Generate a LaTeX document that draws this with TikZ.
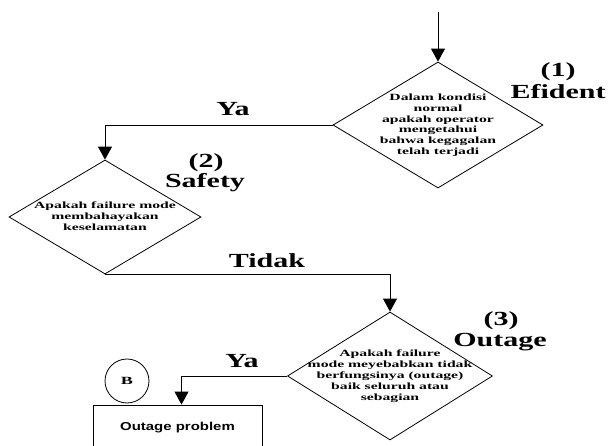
\documentclass[tikz,border=0pt]{standalone}
\usepackage{fontspec}
\setmainfont{Liberation Serif}
\newfontfamily\bigf[FakeStretch=1.5]{Liberation Serif}
\newfontfamily\smallf[FakeStretch=1.65]{Liberation Serif}
\newfontfamily\sansf[FakeStretch=1.3]{Liberation Sans}
\usetikzlibrary{shapes.geometric,arrows.meta}
\newcommand{\zerobox}[1]{\makebox[0pt]{\smash{\raisebox{-2.5pt}{\begin{tabular}{@{}c@{}}#1\end{tabular}}}}}
\tikzset{
  dec/.style={draw, diamond, inner sep=0pt, line width=0.8pt,
    font=\smallf\bfseries\fontsize{9.5}{10.8}\selectfont},
  lbl/.style={anchor=base, font=\bigf\bfseries\fontsize{20}{22}\selectfont},
  conn/.style={draw, line width=0.9pt, -{Triangle[width=14pt,length=13pt]}},
  procbox/.style={draw, rectangle, line width=0.9pt, minimum width=169pt, minimum height=45pt,
    font=\sansf\bfseries\fontsize{11.5}{13}\selectfont},
  conncircle/.style={draw, circle, line width=0.8pt, minimum size=44pt, inner sep=0pt,
    font=\smallf\bfseries\fontsize{11}{12}\selectfont}
}
\begin{document}
\begin{tikzpicture}[x=1pt,y=-1pt]
\useasboundingbox (0,0) rectangle (610,446);
\clip (0,0) rectangle (610,446);
\node[dec, minimum width=210pt, minimum height=126pt] (d1) at (438,125)
  {\zerobox{Dalam kondisi\\normal\\apakah operator\\mengetahui\\bahwa kegagalan\\telah terjadi}};
\node[dec, minimum width=192pt, minimum height=114pt] (d2) at (105,217)
  {\zerobox{Apakah failure mode\\membahayakan\\keselamatan}};
\node[dec, minimum width=205pt, minimum height=128pt] (d3) at (390,376)
  {\zerobox{Apakah failure\\mode meyebabkan tidak\\berfungsinya (outage)\\baik seluruh atau\\sebagian}};
\node[procbox] (prob) at (177.5,427.5) {Outage problem};
\node[conncircle] (b) at (127,381) {B};
\coordinate (top) at (438,12);
\draw[conn] (top) -- (d1.north);
\draw[conn] (d1.west) -| (d2.north);
\draw[conn] (d2.south) -| (d3.north);
\draw[conn] (d3.west) -| ([xshift=4pt]prob.north);
\node[lbl] (l1a) at (558,77) {(1)};
\node[lbl] (l1b) at (558,99) {Efident};
\node[lbl] (ya1) at (233,116) {Ya};
\node[lbl] (l2a) at (206,168) {(2)};
\node[lbl] (l2b) at (205,188) {Safety};
\node[lbl] (tidak) at (267,268) {Tidak};
\node[lbl] (l3a) at (501,325) {(3)};
\node[lbl] (l3b) at (500,346) {Outage};
\node[lbl] (ya2) at (242,367) {Ya};
\end{tikzpicture}
\end{document}
